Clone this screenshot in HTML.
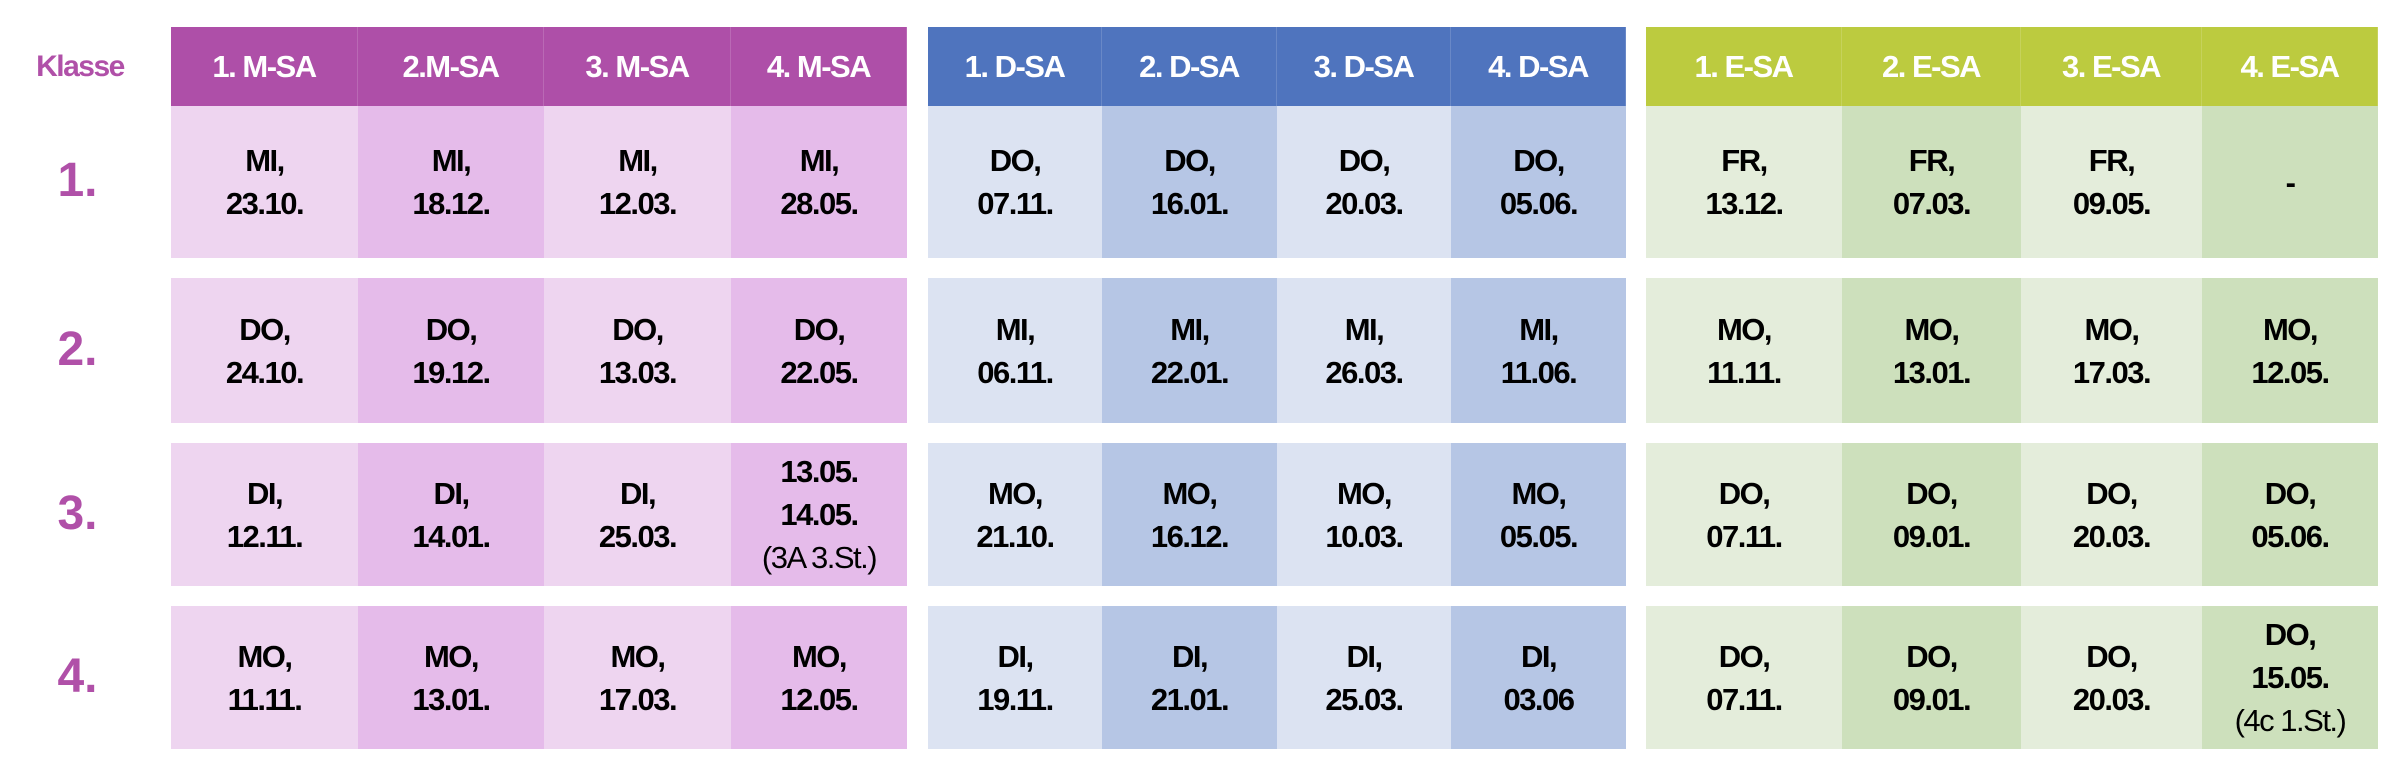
<!DOCTYPE html>
<html><head><meta charset="utf-8"><style>
body{margin:0;width:2394px;height:768px;background:#fff;overflow:hidden;font-family:"Liberation Sans",Arial,sans-serif;position:relative}
.c{position:absolute;display:flex;flex-direction:column;align-items:center;justify-content:center;font-weight:bold;font-size:31px;line-height:43px;color:#000;text-align:center;letter-spacing:-1.5px;box-sizing:border-box}
.h{color:#fff;font-size:31px;border-right:1px solid rgba(255,255,255,0.15)}
.lbl{position:absolute;color:#b050a8;font-weight:bold;text-align:center}
.n{font-weight:normal}
</style></head><body>
<div class="lbl" style="left:20px;top:50px;width:120px;font-size:30px;letter-spacing:-1.5px">Klasse</div>
<script>
const groupEdges=[[171,358,544,731,907],[928,1102,1277,1451,1626],[1646,1842,2021,2202,2378]];
const headColors=['#ae4fa8','#4f74be','#bccb3f'];
const cellColors=[['#eed5f0','#e5bbea'],['#dce3f2','#b6c6e5'],['#e4eddb','#cde0bc']];
const headers=[['1. M-SA','2.M-SA','3. M-SA','4. M-SA'],['1. D-SA','2. D-SA','3. D-SA','4. D-SA'],['1. E-SA','2. E-SA','3. E-SA','4. E-SA']];
const rowTops=[106,278,443,606];
const rowBots=[258,423,586,749];
const rowLabels=['1.','2.','3.','4.'];
const cells=[
[['MI,|23.10.','MI,|18.12.','MI,|12.03.','MI,|28.05.'],['DO,|07.11.','DO,|16.01.','DO,|20.03.','DO,|05.06.'],['FR,|13.12.','FR,|07.03.','FR,|09.05.','-']],
[['DO,|24.10.','DO,|19.12.','DO,|13.03.','DO,|22.05.'],['MI,|06.11.','MI,|22.01.','MI,|26.03.','MI,|11.06.'],['MO,|11.11.','MO,|13.01.','MO,|17.03.','MO,|12.05.']],
[['DI,|12.11.','DI,|14.01.','DI,|25.03.','13.05.|14.05.|~(3A 3.St.)'],['MO,|21.10.','MO,|16.12.','MO,|10.03.','MO,|05.05.'],['DO,|07.11.','DO,|09.01.','DO,|20.03.','DO,|05.06.']],
[['MO,|11.11.','MO,|13.01.','MO,|17.03.','MO,|12.05.'],['DI,|19.11.','DI,|21.01.','DI,|25.03.','DI,|03.06'],['DO,|07.11.','DO,|09.01.','DO,|20.03.','DO,|15.05.|~(4c 1.St.)']]
];
function box(x,y,w,h,bg){const d=document.createElement('div');d.className='c';d.style.cssText+=`left:${x}px;top:${y}px;width:${w}px;height:${h}px;background:${bg}`;document.body.appendChild(d);return d;}
groupEdges.forEach((e,g)=>{
  for(let i=0;i<4;i++){
    const h=box(e[i],27,e[i+1]-e[i],79,headColors[g]);h.classList.add('h');h.textContent=headers[g][i];
    
    
    rowTops.forEach((t,r)=>{
      const c=box(e[i],t,e[i+1]-e[i],rowBots[r]-t,cellColors[g][i%2]);
      
      
      cells[r][g][i].split('|').forEach(s=>{const sp=document.createElement('div');if(s[0]==='~'){sp.className='n';s=s.slice(1);}sp.textContent=s;c.appendChild(sp);});
    });
  }
});
rowTops.forEach((t,r)=>{
  const l=document.createElement('div');l.className='lbl';l.textContent=rowLabels[r];
  l.style.cssText+=`left:30px;width:95px;font-size:48px;top:${(t+rowBots[r])/2-29}px`;
  
  
  document.body.appendChild(l);
});
</script>
</body></html>
